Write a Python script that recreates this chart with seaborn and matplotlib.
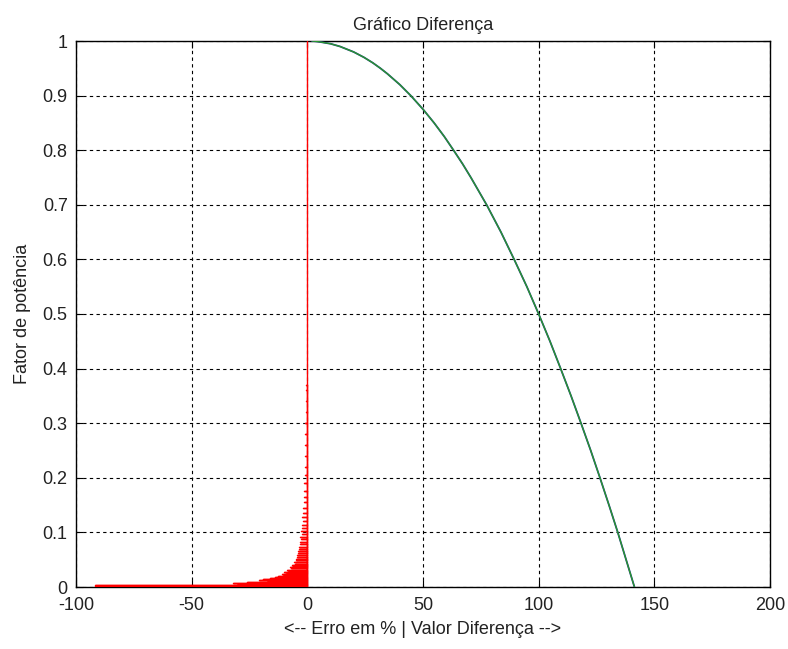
import matplotlib
matplotlib.use("Agg")
import matplotlib.pyplot as plt
import seaborn as sns
import pandas as pd

# ---- data ----
# Green/blue curve: power factor vs difference value
curve_pf = [1.0, 0.999, 0.995, 0.99, 0.98, 0.97, 0.96, 0.95, 0.94, 0.92, 0.9, 0.875,
            0.85, 0.825, 0.8, 0.775, 0.75, 0.7, 0.65, 0.6, 0.55, 0.5, 0.45, 0.4,
            0.35, 0.3, 0.25, 0.2, 0.15, 0.1, 0.05, 0.0]
curve_x = [2.0, 4.5, 10.0, 14.1, 20.0, 24.5, 28.3, 31.6, 34.6, 40.0, 44.7, 50.0,
           54.8, 59.2, 63.2, 67.1, 70.7, 77.5, 83.7, 89.4, 94.9, 100.0, 104.9, 109.5,
           114.0, 118.3, 122.5, 126.5, 130.4, 134.2, 137.8, 141.4]

# Red error spikes: tips of horizontal spikes (power factor, error %)
spike_pf = [0.001, 0.002, 0.003, 0.004, 0.005, 0.006, 0.007, 0.008, 0.009, 0.010,
            0.011, 0.012, 0.013, 0.014, 0.015, 0.016, 0.017, 0.018, 0.019, 0.020,
            0.022, 0.024, 0.026, 0.028, 0.030, 0.032, 0.034, 0.036, 0.038, 0.040,
            0.043, 0.046, 0.049, 0.052, 0.055, 0.058, 0.062, 0.066, 0.070, 0.074,
            0.078, 0.082, 0.087, 0.092, 0.097, 0.102, 0.108, 0.114, 0.120, 0.128,
            0.136, 0.145, 0.155, 0.165, 0.175, 0.19, 0.205, 0.22, 0.24, 0.26,
            0.28, 0.30, 0.32, 0.34, 0.36, 0.37]
spike_err = [-92, -60, -92, -40, -25, -30, -22, -32, -20, -26,
             -17, -21, -15, -19, -13, -16, -12, -14, -11, -12.5,
             -10, -11, -9, -10, -8, -9, -7, -7.5, -6.2, -6.5,
             -5.5, -5.8, -5.0, -5.0, -4.4, -4.6, -3.9, -4.1, -3.5, -3.7,
             -3.1, -3.3, -2.8, -3.0, -2.5, -2.6, -2.2, -2.3, -2.0, -2.1,
             -1.8, -1.7, -1.6, -1.5, -1.4, -1.3, -1.2, -1.1, -1.0, -0.9,
             -0.85, -0.8, -0.7, -0.65, -0.5, -0.4]
vert_pf = [0.0, 1.0]
vert_err = [0.0, 0.0]

x_ticks = [-100, -50, 0, 50, 100, 150, 200]
y_ticks = [0, 0.1, 0.2, 0.3, 0.4, 0.5, 0.6, 0.7, 0.8, 0.9, 1]
y_tick_labels = ["0", "0.1", "0.2", "0.3", "0.4", "0.5", "0.6", "0.7", "0.8", "0.9", "1"]

title = "Gráfico Diferença"
xlabel = "<-- Erro em % | Valor Diferença -->"
ylabel = "Fator de potência"

# ---- build zigzag for red spikes ----
zz_x, zz_y = [], []
for p, e in zip(spike_pf, spike_err):
    zz_x += [0.0, e, 0.0]
    zz_y += [p, p, p]
red_df = pd.DataFrame({"err": zz_x, "pf": zz_y})
vert_df = pd.DataFrame({"err": vert_err, "pf": vert_pf})
curve_df = pd.DataFrame({"x": curve_x, "pf": curve_pf})

sns.set_style("white")
plt.rcParams["font.family"] = ["Liberation Sans", "DejaVu Sans"]
plt.rcParams["font.size"] = 13

fig = plt.figure(figsize=(7.88, 6.49), dpi=100)
ax = fig.add_axes([76 / 788, 1 - 587 / 649, (770 - 76) / 788, (587 - 41) / 649])

sns.lineplot(data=red_df, x="err", y="pf", sort=False, estimator=None,
             color="#ff0000", linewidth=1.0, ax=ax)
sns.lineplot(data=vert_df, x="err", y="pf", sort=False, estimator=None,
             color="#ff0000", linewidth=1.0, ax=ax)
sns.lineplot(data=curve_df, x="x", y="pf", sort=False, estimator=None,
             color="#203a8a", linewidth=1.3, ax=ax)
sns.lineplot(data=curve_df, x="x", y="pf", sort=False, estimator=None,
             color="#2a9a2a", linewidth=0.9, ax=ax)

ax.set_xlim(-100, 200)
ax.set_ylim(0, 1)
ax.set_xticks(x_ticks)
ax.set_xticklabels([str(v) for v in x_ticks])
ax.set_yticks(y_ticks)
ax.set_yticklabels(y_tick_labels)
ax.grid(True, color="black", linestyle=(0, (3, 3)), linewidth=0.8)
for s in ax.spines.values():
    s.set_color("black")
    s.set_linewidth(1.0)
    s.set_visible(True)
ax.tick_params(axis="x", pad=7)
ax.tick_params(axis="y", pad=6)
ax.tick_params(direction="in", length=5, width=0.8, color="black",
               top=True, right=True, bottom=True, left=True,
               labelsize=13, labelcolor="#222222")
ax.set_title(title, fontsize=13, pad=8, color="#222222")
ax.set_xlabel(xlabel, fontsize=13, labelpad=5, color="#222222")
ax.set_ylabel(ylabel, fontsize=13, labelpad=8, color="#222222")
for line in ax.get_lines():
    line.set_zorder(3)

fig.savefig("out.png", dpi=100, facecolor="white")
